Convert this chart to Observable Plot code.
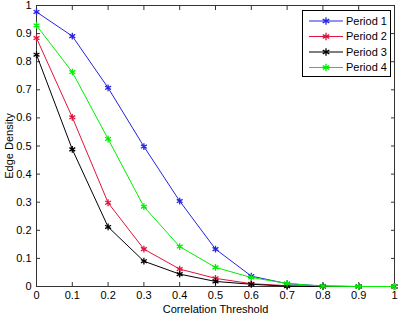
<!DOCTYPE html>
<html><head><meta charset="utf-8">
<script src="https://cdn.jsdelivr.net/npm/d3@7"></script>
<script src="https://cdn.jsdelivr.net/npm/@observablehq/plot@0.6"></script>
<style>
body{margin:0;background:#fff}
#chart{position:relative;width:400px;height:314px;font-family:"Liberation Sans",Arial,sans-serif}
#legend{position:absolute;left:302px;top:10px;width:87px;height:65px;border:1px solid #000;background:#fff}
</style>
</head><body>
<div id="chart"></div>
<script>
const thresholds = [0, 0.1, 0.2, 0.3, 0.4, 0.5, 0.6, 0.7, 0.8, 0.9, 1];
const tickValues = [0, 0.1, 0.2, 0.3, 0.4, 0.5, 0.6, 0.7, 0.8, 0.9, 1];
const seriesNames = ["Period 1", "Period 2", "Period 3", "Period 4"];
const seriesColors = ["#2424e0", "#e0143c", "#000000", "#00f000"];
const period1 = [0.977, 0.891, 0.707, 0.498, 0.304, 0.133, 0.037, 0.010, 0.002, 0, 0];
const period2 = [0.884, 0.602, 0.298, 0.133, 0.062, 0.029, 0.010, 0.003, 0, 0, 0];
const period3 = [0.825, 0.488, 0.212, 0.090, 0.044, 0.018, 0.008, 0.001, 0, 0, 0];
const period4 = [0.929, 0.763, 0.525, 0.284, 0.142, 0.068, 0.032, 0.011, 0.001, 0, 0];
const xLabel = "Correlation Threshold";
const yLabel = "Edge Density";

const allValues = [period1, period2, period3, period4];
const series = seriesNames.map((name, i) => ({
  name, color: seriesColors[i],
  points: thresholds.map((t, j) => ({t, v: allValues[i][j]}))
}));
const fmt = d => String(+d.toFixed(1));

const chart = Plot.plot({
  width: 400, height: 314,
  marginLeft: 36, marginRight: 6, marginTop: 5, marginBottom: 28,
  style: {fontFamily: '"Liberation Sans", Arial, sans-serif', fontSize: "11px", color: "#000", background: "#fff"},
  x: {domain: [0, 1]},
  y: {domain: [0, 1]},
  marks: [
    Plot.frame({stroke: "#333"}),
    Plot.axisX({ticks: tickValues, tickSize: 0, tickPadding: 5, tickFormat: fmt, label: xLabel, labelAnchor: "center", labelArrow: "none", labelOffset: 26}),
    Plot.axisX({ticks: tickValues, tickSize: -4, tickFormat: () => "", label: null, stroke: "#333"}),
    Plot.axisX({anchor: "top", ticks: tickValues, tickSize: -4, tickFormat: () => "", label: null, stroke: "#333"}),
    Plot.axisY({ticks: tickValues, tickSize: 0, tickPadding: 5, tickFormat: fmt, label: yLabel, labelAnchor: "center", labelArrow: "none", labelOffset: 31}),
    Plot.axisY({ticks: tickValues, tickSize: -4, tickFormat: () => "", label: null, stroke: "#333"}),
    Plot.axisY({anchor: "right", ticks: tickValues, tickSize: -4, tickFormat: () => "", label: null, stroke: "#333"}),
    ...series.flatMap(s => [
      Plot.line(s.points, {x: "t", y: "v", stroke: s.color, strokeWidth: 1}),
      Plot.dot(s.points, {x: "t", y: "v", stroke: s.color, symbol: "asterisk", r: 3.2, strokeWidth: 1.3})
    ])
  ]
});
const container = document.getElementById("chart");
container.appendChild(chart);

// legend
const legend = d3.select(container).append("div").attr("id", "legend");
const svg = legend.append("svg").attr("width", 87).attr("height", 65);
const rowH = 15.5;
series.forEach((s, i) => {
  const y = 10 + i * rowH;
  const g = svg.append("g");
  g.append("line").attr("x1", 6).attr("x2", 40).attr("y1", y).attr("y2", y).attr("stroke", s.color).attr("stroke-width", 1);
  g.append("path").attr("d", d3.symbol(d3.symbolAsterisk, 40)()).attr("transform", `translate(23,${y})`).attr("stroke", s.color).attr("stroke-width", 1.3).attr("fill", "none");
  g.append("text").attr("x", 43).attr("y", y).attr("dy", "0.35em").attr("font-size", "11px").attr("font-family", '"Liberation Sans", Arial, sans-serif').text(s.name);
});
</script>
</body></html>
